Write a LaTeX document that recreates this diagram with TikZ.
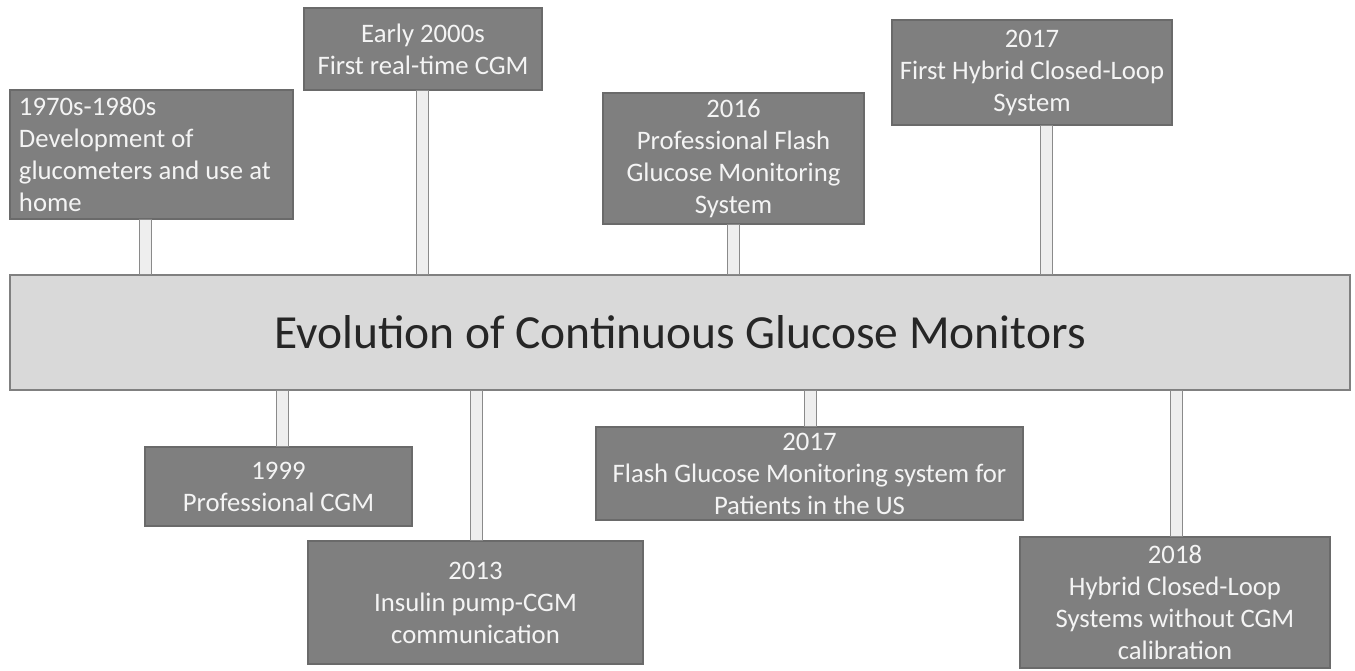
\documentclass[tikz,border=0pt]{standalone}
\usepackage{fontspec}
\setmainfont{Carlito}
\usetikzlibrary{calc}
\definecolor{boxfill}{HTML}{7F7F7F}
\definecolor{boxline}{HTML}{6A6A6A}
\definecolor{boxtext}{HTML}{F4F4F4}
\definecolor{barfill}{HTML}{D9D9D9}
\definecolor{barline}{HTML}{808080}
\definecolor{stemfill}{HTML}{EEEEEE}
\definecolor{stemline}{HTML}{8A8A8A}
\begin{document}
\begin{tikzpicture}[x=1pt,y=-1pt,
  evbox/.style={draw=boxline, line width=1.3pt, fill=boxfill, text=boxtext,
    font=\fontsize{26.7}{32}\selectfont, align=center, inner sep=0pt},
  evbar/.style={draw=barline, line width=1.3pt, fill=barfill, text=black!85,
    font=\fontsize{47.5}{56}\selectfont, inner sep=0pt},
  stemrect/.style={draw=stemline, line width=1pt, fill=stemfill}]
\useasboundingbox (0,0) rectangle (1355,671);
\fill[white] (0,0) rectangle (1355,671);

% nodes
\node[evbar, minimum width=1340pt, minimum height=115pt] (bar) at (680,332.5) {Evolution of Continuous Glucose Monitors};

\node[evbox, align=flush left, text width=265pt, minimum width=283pt, minimum height=129pt] (b1) at (151.5,154.5)
  {1970s-1980s\\Development of\\glucometers and use at\\home};
\node[evbox, minimum width=238pt, minimum height=82pt] (b2) at (423,49)
  {Early 2000s\\First real-time CGM};
\node[evbox, minimum width=261pt, minimum height=131pt] (b3) at (733.5,158.5)
  {2016\\Professional Flash\\Glucose Monitoring\\System};
\node[evbox, minimum width=280pt, minimum height=105pt] (b4) at (1032,72.5)
  {2017\\First Hybrid Closed-Loop\\System};
\node[evbox, minimum width=267pt, minimum height=79pt] (b5) at (278.5,486.5)
  {1999\\Professional CGM};
\node[evbox, minimum width=335pt, minimum height=123pt] (b6) at (475.5,602.5)
  {2013\\Insulin pump-CGM\\communication};
\node[evbox, minimum width=427pt, minimum height=93pt] (b7) at (809.5,473.5)
  {2017\\Flash Glucose Monitoring system for\\Patients in the US};
\node[evbox, minimum width=310pt, minimum height=131pt] (b8) at (1175,602.5)
  {2018\\Hybrid Closed-Loop\\Systems without CGM\\calibration};

% stem positions
\coordinate (s1) at (145,0);
\coordinate (s2) at (422,0);
\coordinate (s3) at (733,0);
\coordinate (s4) at (1046,0);
\coordinate (s5) at (282,0);
\coordinate (s6) at (476,0);
\coordinate (s7) at (810,0);
\coordinate (s8) at (1176,0);

% stems
\foreach \s/\b in {s1/b1,s2/b2,s3/b3,s4/b4}{
  \draw[stemrect] ($(\s |- \b.south)+(-6,0)$) rectangle ($(\s |- bar.north)+(6,0)$);
}
\foreach \s/\b in {s5/b5,s6/b6,s7/b7,s8/b8}{
  \draw[stemrect] ($(\s |- bar.south)+(-6,0)$) rectangle ($(\s |- \b.north)+(6,0)$);
}
\end{tikzpicture}
\end{document}
